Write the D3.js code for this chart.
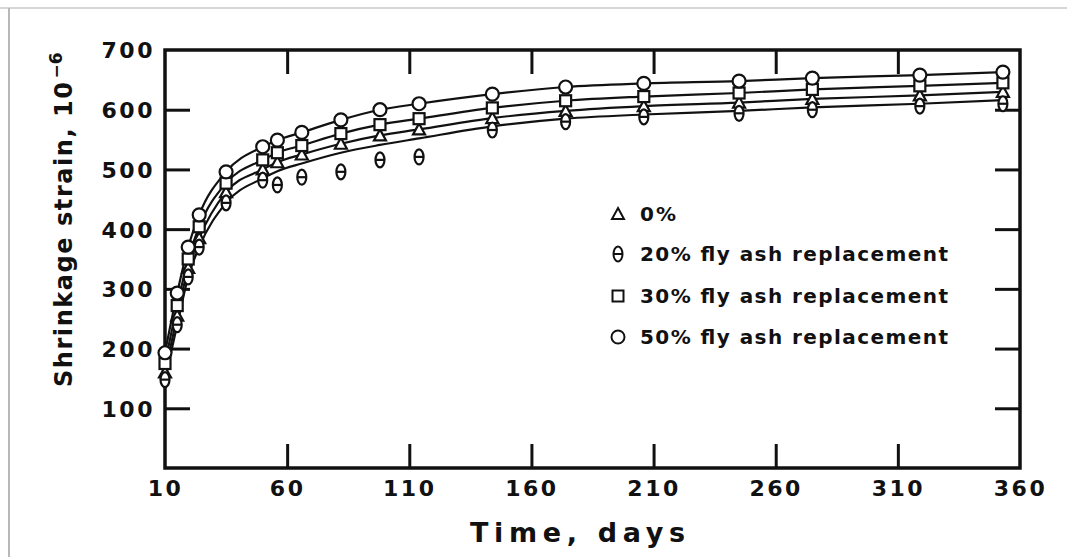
<!DOCTYPE html>
<html lang="en">
<head>
<meta charset="UTF-8" />
<title>Shrinkage strain</title>
<script src="https://cdn.jsdelivr.net/npm/d3@7"></script>
<style>
  body { margin: 0; background: #fff; }
  text { font-family: "DejaVu Sans", "Liberation Sans", Arial, sans-serif; font-weight: bold; fill: #111; }
</style>
</head>
<body>
<svg id="chart" width="1067" height="557"></svg>
<script>
// time in days
var days = [10, 15, 19.5, 24, 35, 50, 56, 66, 82, 98, 114, 144, 174, 206, 245, 275, 319, 353];

// shrinkage strain, 10^-6 (curve values)
var fa50 = [193, 293, 370, 424, 496, 538, 549, 562, 583, 600, 610, 626, 638, 644, 648, 653, 658, 663];
var fa30 = [175, 272, 350, 404, 477, 516, 528, 540, 560, 575, 585, 603, 615, 622, 628, 634, 640, 645];
var fa0  = [160, 255, 335, 385, 462, 500, 512, 525, 543, 557, 567, 586, 598, 606, 612, 618, 624, 630];
var fa20 = [148, 240, 320, 370, 444, 485, 497, 510, 528, 541, 552, 572, 585, 592, 598, 604, 610, 616];
// 20% measured points sit under its curve in the middle part
var fa20pts = [148, 240, 320, 370, 444, 482, 474, 487, 496, 516, 521, 566, 580, 588, 594, 600, 606, 610];

var xTicks = [10, 60, 110, 160, 210, 260, 310, 360];
var yTicks = [100, 200, 300, 400, 500, 600, 700];

var legendLabels = ["0%", "20% fly ash replacement", "30% fly ash replacement", "50% fly ash replacement"];

var series = [
  {name: "0%", line: fa0, pts: fa0, shape: "triangle"},
  {name: "20%", line: fa20, pts: fa20pts, shape: "theta"},
  {name: "30%", line: fa30, pts: fa30, shape: "square"},
  {name: "50%", line: fa50, pts: fa50, shape: "circle"}
];

var svg = d3.select("#chart");
var pL = 165, pR = 1020, pT = 50, pB = 468;

var x = d3.scaleLinear().domain([10, 360]).range([pL, pR]);
var y = d3.scaleLinear().domain([0, 700]).range([pB, pT]);

// scan edges
svg.append("line").attr("x1", 0).attr("x2", 1067).attr("y1", 8).attr("y2", 8)
  .attr("stroke", "#c8c8c8").attr("stroke-width", 1.5);
svg.append("line").attr("x1", 9).attr("x2", 9).attr("y1", 8).attr("y2", 557)
  .attr("stroke", "#b8b8b8").attr("stroke-width", 2);

// axes, ticks point inward
var yAxis = svg.append("g").attr("transform", "translate(" + pL + ",0)")
  .call(d3.axisLeft(y).tickValues(yTicks).tickSizeInner(-25).tickSizeOuter(0).tickPadding(10));
yAxis.select(".domain").remove();
yAxis.selectAll(".tick line").filter(function(d) { return d == 700; }).remove();
yAxis.selectAll("text").style("font-size", "22px").style("letter-spacing", "2.5px").attr("dy", "0.36em");

var yRight = svg.append("g").attr("transform", "translate(" + pR + ",0)")
  .call(d3.axisRight(y).tickValues(yTicks.slice(0, 6)).tickSizeInner(-25).tickSizeOuter(0).tickFormat(""));
yRight.select(".domain").remove();

var xAxis = svg.append("g").attr("transform", "translate(0," + pB + ")")
  .call(d3.axisBottom(x).tickValues(xTicks).tickSizeInner(-24).tickSizeOuter(0).tickPadding(12));
xAxis.select(".domain").remove();
xAxis.selectAll(".tick line").filter(function(d) { return d == 10 || d == 360; }).remove();
xAxis.selectAll("text").style("font-size", "22px").style("letter-spacing", "2.5px");

var xTop = svg.append("g").attr("transform", "translate(0," + pT + ")")
  .call(d3.axisTop(x).tickValues(xTicks.slice(1, 7)).tickSizeInner(-24).tickSizeOuter(0).tickFormat(""));
xTop.select(".domain").remove();

svg.selectAll(".tick line").attr("stroke", "#111").attr("stroke-width", 3);

// frame
svg.append("rect").attr("x", pL).attr("y", pT)
  .attr("width", pR - pL).attr("height", pB - pT)
  .attr("fill", "none").attr("stroke", "#111").attr("stroke-width", 3.5);

// curves
var line = d3.line()
  .x(function(d) { return x(d[0]); })
  .y(function(d) { return y(d[1]); })
  .curve(d3.curveMonotoneX);

series.forEach(function(s) {
  svg.append("path")
    .datum(days.map(function(d, i) { return [d, s.line[i]]; }))
    .attr("d", line)
    .attr("fill", "none")
    .attr("stroke", "#111")
    .attr("stroke-width", 2.2);
});

function drawMarker(g, shape, cx, cy) {
  if (shape == "circle") {
    g.append("circle").attr("cx", cx).attr("cy", cy).attr("r", 6.5);
  } else if (shape == "square") {
    g.append("rect").attr("x", cx - 5.5).attr("y", cy - 5.5).attr("width", 11).attr("height", 11);
  } else if (shape == "triangle") {
    g.append("path").attr("d", "M" + cx + "," + (cy - 6) + "L" + (cx + 6) + "," + (cy + 5) + "L" + (cx - 6) + "," + (cy + 5) + "Z");
  } else {
    g.append("ellipse").attr("cx", cx).attr("cy", cy).attr("rx", 4.5).attr("ry", 7.5);
    g.append("line").attr("x1", cx - 4.5).attr("x2", cx + 4.5).attr("y1", cy).attr("y2", cy);
  }
}

var marks = svg.append("g").attr("fill", "#fff").attr("stroke", "#111").attr("stroke-width", 2.2);
series.forEach(function(s) {
  days.forEach(function(d, i) {
    drawMarker(marks, s.shape, x(d), y(s.pts[i]));
  });
});

// legend
var legend = svg.append("g");
var legY = [214, 254, 296, 337];
var legWidths = [36, 308, 308, 308];
legendLabels.forEach(function(t, i) {
  var g = legend.append("g").attr("fill", "#fff").attr("stroke", "#111").attr("stroke-width", 2);
  drawMarker(g, series[i].shape, 618, legY[i]);
  legend.append("text").attr("x", 640).attr("y", legY[i]).attr("dy", "0.36em")
    .style("font-size", "20px").attr("textLength", legWidths[i]).attr("lengthAdjust", "spacing")
    .text(t);
});

// axis titles
svg.append("text").attr("x", 470).attr("y", 542)
  .style("font-size", "27px").attr("textLength", 215).attr("lengthAdjust", "spacing")
  .text("Time, days");

var yt = svg.append("text").attr("transform", "translate(72,387) rotate(-90)")
  .style("font-size", "24px");
yt.append("tspan").attr("textLength", 305).attr("lengthAdjust", "spacing").text("Shrinkage strain, 10");
yt.append("tspan").attr("dx", "2").attr("dy", "-0.6em").style("font-size", "17px").text("−6");
</script>
</body>
</html>
